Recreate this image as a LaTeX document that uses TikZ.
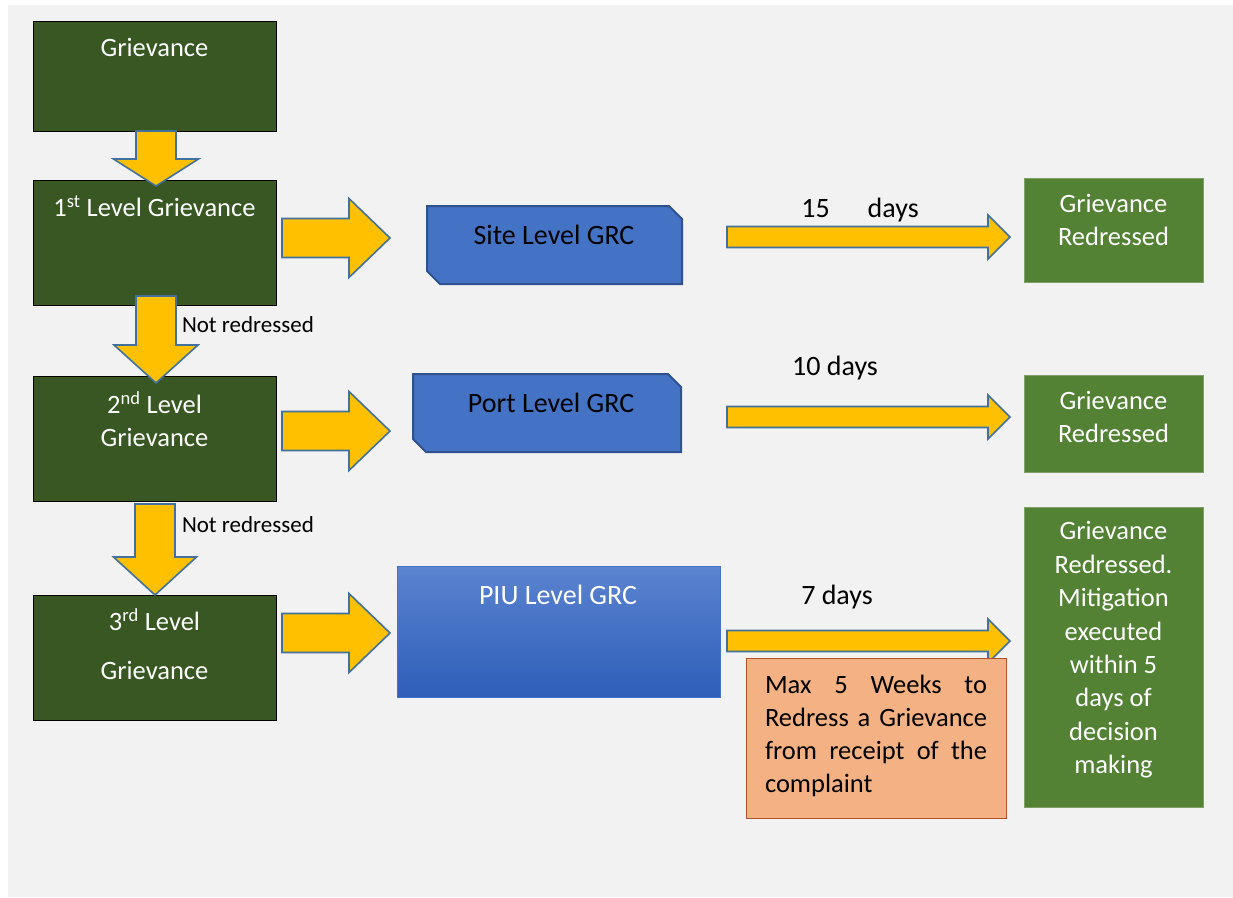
\documentclass[tikz,border=0pt]{standalone}
\usepackage{fontspec}
\setmainfont{Carlito}
\usetikzlibrary{calc}

\definecolor{bgray}{HTML}{F2F2F2}
\definecolor{dkgreen}{HTML}{385723}
\definecolor{mdgreen}{HTML}{548235}
\definecolor{gold}{HTML}{FFC000}
\definecolor{arrowedge}{HTML}{41719C}
\definecolor{grcblue}{HTML}{4472C4}
\definecolor{grcedge}{HTML}{2F528F}
\definecolor{piutop}{HTML}{5B84D0}
\definecolor{piubot}{HTML}{2E5EB9}
\definecolor{peach}{HTML}{F4B183}
\definecolor{peachedge}{HTML}{B4532A}

% horizontal block arrow: start, tip, shaft half-height, head half-height, head length
\newcommand\rightblock[5]{%
  \draw[blockarrow] let \p1=(#1), \p2=(#2) in
    (\x1,\y1+#3) -- (\x2-#5,\y1+#3) -- (\x2-#5,\y1+#4) -- (\x2,\y1)
    -- (\x2-#5,\y1-#4) -- (\x2-#5,\y1-#3) -- (\x1,\y1-#3) -- cycle;}
% vertical block arrow pointing down: start, tip, shaft half-width, head half-width, head length
\newcommand\downblock[5]{%
  \draw[blockarrow] let \p1=(#1), \p2=(#2) in
    (\x1-#3,\y1) -- (\x1-#3,\y2+#5) -- (\x1-#4,\y2+#5) -- (\x1,\y2)
    -- (\x1+#4,\y2+#5) -- (\x1+#3,\y2+#5) -- (\x1+#3,\y1) -- cycle;}
% one fully justified line of the note
\newcommand\noteline[1]{\makebox[222pt][s]{#1}}

\begin{document}
\begin{tikzpicture}[x=1pt,y=-1pt,
  every node/.style={inner sep=0pt,outer sep=0pt},
  txt/.style={font=\fontsize{26.5}{33}\selectfont,align=center},
  bigtxt/.style={font=\fontsize{28}{33}\selectfont,align=center},
  smalltxt/.style={font=\fontsize{23}{28}\selectfont},
  levelbox/.style={draw=black,line width=0.8pt,fill=dkgreen,
    minimum width=243pt,anchor=north west},
  donebox/.style={draw=mdgreen!75!white,line width=0.8pt,fill=mdgreen,
    minimum width=179pt,anchor=north west},
  grcframe/.style={minimum width=#1,minimum height=78pt,anchor=north west},
  grcline/.style={draw=grcedge,line width=2pt,fill=grcblue,line join=miter},
  blockarrow/.style={draw=arrowedge,line width=1.6pt,fill=gold,line join=miter},
  notebox/.style={draw=peachedge,line width=1pt,fill=peach,
    minimum width=260pt,minimum height=160pt,anchor=north west},
]
\useasboundingbox (0,0) rectangle (1233,897);
\fill[white] (0,0) rectangle (1233,897);
\fill[bgray] (8,5) rectangle (1233,897);

% grievance levels
\node[levelbox,minimum height=110pt] (g0) at (33,21) {};
\node[levelbox,minimum height=125pt] (g1) at (33,180) {};
\node[levelbox,minimum height=125pt] (g2) at (33,376) {};
\node[levelbox,minimum height=125pt] (g3) at (33,595) {};
\node[txt,text=white] (g0t) at (154.5,47) {Grievance};
\node[txt,text=white] (g1t) at (154.5,206) {1\textsuperscript{st} Level Grievance};
\node[txt,text=white] (g2t) at (154.5,419) {2\textsuperscript{nd} Level\\Grievance};
\node[txt,text=white] (g3t) at (154.5,644) {3\textsuperscript{rd} Level\\[16pt]Grievance};

% escalation arrows
\downblock{$(g0.south)+(1.5,0)$}{$(g1.north)+(1.5,6)$}{20pt}{42.5pt}{27pt}
\downblock{$(g1.south)+(1.5,-9)$}{$(g2.north)+(1.5,7)$}{20pt}{42pt}{38pt}
\downblock{$(g2.south)+(0.5,3)$}{$(g3.north)+(0.5,0)$}{20pt}{41.5pt}{38pt}
\node[smalltxt,anchor=west] (nr1) at (182,325) {Not redressed};
\node[smalltxt,anchor=west] (nr2) at (182,525) {Not redressed};

% committees
\node[grcframe=255pt] (site) at (427,206) {};
\node[grcframe=268pt] (port) at (413,374) {};
\draw[grcline] (site.north west) -- ($(site.north east)+(-13,0)$)
  -- ($(site.north east)+(0,13)$) -- (site.south east)
  -- ($(site.south west)+(13,0)$) -- ($(site.south west)+(0,-13)$) -- cycle;
\draw[grcline] (port.north west) -- ($(port.north east)+(-13,0)$)
  -- ($(port.north east)+(0,13)$) -- (port.south east)
  -- ($(port.south west)+(13,0)$) -- ($(port.south west)+(0,-13)$) -- cycle;
\node[bigtxt] (sitet) at (554,235) {Site Level GRC};
\node[bigtxt] (portt) at (551,403) {Port Level GRC};
\node[draw=grcblue,line width=0.6pt,top color=piutop,bottom color=piubot,
  minimum width=323pt,minimum height=131pt,anchor=north west] (piu) at (397,566) {};
\node[bigtxt,text=white] (piut) at (558,595) {PIU Level GRC};

% level to committee arrows
\rightblock{$(g1.north east)+(6,58)$}{$(site.west)+(-37,0)$}{19.5pt}{39.5pt}{41pt}
\rightblock{$(g2.north east)+(6,55)$}{$(port.west)+(-23,0)$}{19.5pt}{39.5pt}{41pt}
\rightblock{$(g3.north east)+(6,38)$}{$(piu.west)+(-7,0)$}{19.5pt}{39.5pt}{41pt}

% outcomes
\node[donebox,minimum height=104pt] (r1) at (1024,178) {};
\node[donebox,minimum height=97pt] (r2) at (1024,375) {};
\node[donebox,minimum height=300pt] (r3) at (1024,507) {};
\node[txt,text=white] (r1t) at (1113.5,220) {Grievance\\Redressed};
\node[txt,text=white] (r2t) at (1113.5,416.5) {Grievance\\Redressed};
\node[txt,text=white,font=\fontsize{26.5}{33.4}\selectfont] (r3t) at (1113.5,650)
  {Grievance\\Redressed.\\Mitigation\\executed\\within 5\\days of\\decision\\making};

% committee to outcome arrows
\rightblock{$(site.north east)+(45,31)$}{$(r1.west)+(-14,0)$}{10.5pt}{22pt}{22pt}
\rightblock{$(port.north east)+(46,43)$}{$(r2.west)+(-14,0)$}{10.5pt}{22pt}{22pt}
\rightblock{$(piu.north east)+(7,75)$}{$(r3.west)+(-14,0)$}{10.5pt}{22pt}{22pt}
\node[bigtxt] (d15) at (860,210) {15\hspace{38pt}days};
\node[bigtxt] (d10) at (835,368) {10 days};
\node[bigtxt] (d7) at (837,597) {7 days};

% overall time limit
\node[notebox] (note) at (746,658) {};
\node[font=\fontsize{26.5}{33}\selectfont,align=left] (notet) at (876,736)
  {\noteline{Max 5 Weeks to}\\\noteline{Redress a Grievance}\\
   \noteline{from receipt of the}\\\makebox[222pt][l]{complaint}};
\end{tikzpicture}
\end{document}
